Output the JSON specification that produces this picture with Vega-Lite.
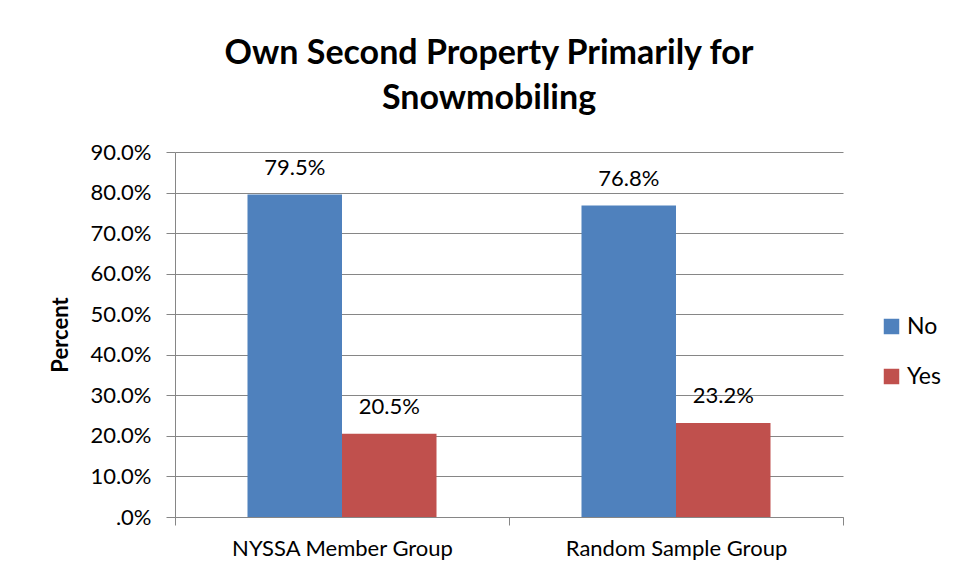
{
  "$schema": "https://vega.github.io/schema/vega-lite/v6.json",
  "autosize": {"type": "none"},
  "width": 668,
  "height": 365,
  "padding": {"left": 175, "top": 152, "right": 115, "bottom": 63},
  "background": "white",
  "config": {
    "font": "Lato",
    "view": {"stroke": null}
  },
  "title": {
    "text": ["Own Second Property Primarily for", "Snowmobiling"],
    "fontSize": 34,
    "fontWeight": "bold",
    "font": "Lato",
    "color": "black",
    "lineHeight": 45,
    "anchor": "middle",
    "dx": -20,
    "offset": 25
  },
  "data": {
    "values": [
      {"Group": "NYSSA Member Group", "Answer": "No", "Percent": 79.5},
      {"Group": "NYSSA Member Group", "Answer": "Yes", "Percent": 20.5},
      {"Group": "Random Sample Group", "Answer": "No", "Percent": 76.8},
      {"Group": "Random Sample Group", "Answer": "Yes", "Percent": 23.2}
    ]
  },
  "transform": [
    {"calculate": "format(datum.Percent, '.1f') + '%'", "as": "Label"}
  ],
  "encoding": {
    "x": {
      "field": "Group",
      "type": "nominal",
      "sort": null,
      "scale": {"paddingInner": 0, "paddingOuter": 0},
      "axis": {
        "title": null,
        "labelAngle": 0,
        "labelFontSize": 22,
        "labelLimit": 400,
        "labelColor": "black",
        "labelPadding": 13,
        "domainColor": "#868686",
        "ticks": true,
        "tickColor": "#868686",
        "tickBand": "extent",
        "tickSize": 8,
        "grid": false
      }
    },
    "xOffset": {
      "field": "Answer",
      "type": "nominal",
      "sort": ["No", "Yes"],
      "scale": {"paddingInner": 0, "paddingOuter": 0.767}
    },
    "y": {
      "field": "Percent",
      "type": "quantitative",
      "scale": {"domain": [0, 90], "nice": false},
      "axis": {
        "title": "Percent",
        "titleFontSize": 22,
        "titleFontWeight": "bold",
        "titleColor": "black",
        "titlePadding": 17,
        "values": [0, 10, 20, 30, 40, 50, 60, 70, 80, 90],
        "labelExpr": "datum.value == 0 ? '.0%' : format(datum.value, '.1f') + '%'",
        "labelFontSize": 22,
        "labelColor": "black",
        "labelPadding": 15,
        "tickSize": 9,
        "tickColor": "#868686",
        "domainColor": "#868686",
        "gridColor": "#868686",
        "grid": true
      }
    }
  },
  "layer": [
    {
      "mark": {"type": "bar"},
      "encoding": {
        "color": {
          "field": "Answer",
          "type": "nominal",
          "scale": {"domain": ["No", "Yes"], "range": ["#4F81BD", "#C0504D"]},
          "legend": {
            "title": null,
            "orient": "none",
            "legendX": 705,
            "legendY": 163,
            "symbolType": "square",
            "symbolSize": 240,
            "symbolStrokeWidth": 0,
            "labelFontSize": 23,
            "labelColor": "black",
            "rowPadding": 26,
            "labelOffset": 4
          }
        }
      }
    },
    {
      "mark": {"type": "text", "baseline": "bottom", "dy": -15, "fontSize": 22, "color": "black"},
      "encoding": {
        "text": {"field": "Label", "type": "nominal"},
        "detail": {"field": "Answer"}
      }
    }
  ]
}
